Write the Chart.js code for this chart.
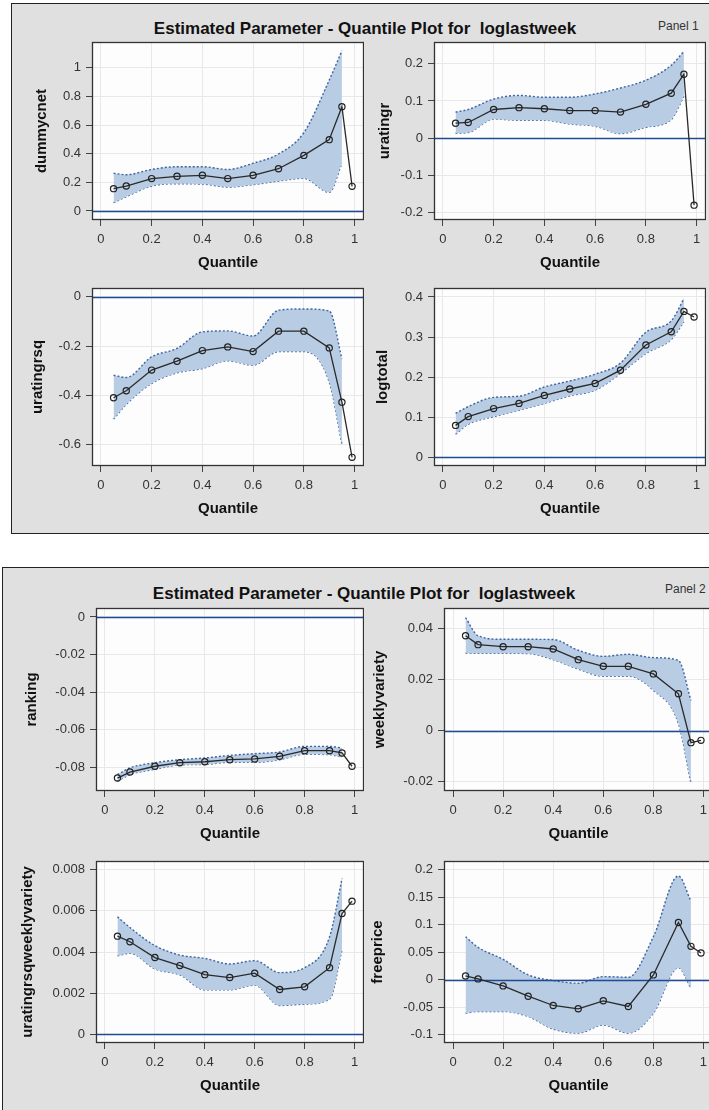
<!DOCTYPE html>
<html><head><meta charset="utf-8">
<script src="https://cdn.jsdelivr.net/npm/chart.js@4.4.1/dist/chart.umd.min.js"></script>
<style>
html,body{margin:0;padding:0;background:#fff;width:709px;height:1110px;overflow:hidden;position:relative;font-family:"Liberation Sans",Arial,sans-serif;}
.panel{position:absolute;background:#e0e0e0;border:1px solid #222;box-sizing:border-box;}
.title{position:absolute;font-weight:bold;font-size:17px;line-height:20px;color:#111;white-space:pre;transform:translate(-50%,-50%);}
.plabel{position:absolute;font-size:12px;line-height:14px;color:#333;white-space:pre;}
canvas{position:absolute;}
</style></head><body>
<div class="panel" style="left:11px;top:3px;width:720px;height:531px"></div>
<div class="panel" style="left:2px;top:567px;width:730px;height:600px"></div>
<div class="title" style="left:365px;top:29px">Estimated Parameter - Quantile Plot for  loglastweek</div>
<div class="plabel" style="left:658px;top:19px">Panel 1</div>
<div class="title" style="left:364px;top:594px">Estimated Parameter - Quantile Plot for  loglastweek</div>
<div class="plabel" style="left:665px;top:582px">Panel 2</div>
<script>
// ---------------- data ----------------
const quantiles = [0.05,0.1,0.2,0.3,0.4,0.5,0.6,0.7,0.8,0.9,0.95,0.99];
const bandQuantiles = [0.05,0.1,0.2,0.3,0.4,0.5,0.6,0.7,0.8,0.9,0.95];
const xTicks = [0,0.2,0.4,0.6,0.8,1];

const dummycnetEst   = [0.156,0.174,0.226,0.242,0.249,0.226,0.249,0.295,0.388,0.498,0.728,0.172];
const dummycnetUpper = [0.263,0.253,0.290,0.309,0.309,0.290,0.333,0.398,0.547,0.914,1.119];
const dummycnetLower = [0.058,0.100,0.174,0.190,0.188,0.167,0.184,0.209,0.228,0.130,0.333];
const dummycnetTicks = [0,0.2,0.4,0.6,0.8,1];

const uratingrEst   = [0.040,0.042,0.077,0.082,0.079,0.074,0.074,0.070,0.091,0.121,0.172,-0.181];
const uratingrUpper = [0.070,0.077,0.105,0.115,0.110,0.110,0.119,0.135,0.156,0.196,0.234];
const uratingrLower = [0.013,0.015,0.051,0.048,0.048,0.038,0.032,0.012,0.029,0.050,0.113];
const uratingrTicks = [-0.2,-0.1,0,0.1,0.2];

const uratingrsqEst   = [-0.409,-0.381,-0.297,-0.261,-0.218,-0.203,-0.222,-0.139,-0.139,-0.207,-0.427,-0.651];
const uratingrsqUpper = [-0.318,-0.327,-0.243,-0.209,-0.142,-0.138,-0.159,-0.054,-0.049,-0.057,-0.250];
const uratingrsqLower = [-0.496,-0.436,-0.351,-0.308,-0.291,-0.259,-0.277,-0.222,-0.222,-0.345,-0.597];
const uratingrsqTicks = [-0.6,-0.4,-0.2,0];

const logtotalEst   = [0.079,0.101,0.121,0.134,0.154,0.170,0.184,0.217,0.280,0.313,0.364,0.350];
const logtotalUpper = [0.109,0.126,0.149,0.152,0.175,0.190,0.207,0.235,0.312,0.340,0.396];
const logtotalLower = [0.057,0.082,0.101,0.117,0.134,0.153,0.167,0.209,0.259,0.294,0.338];
const logtotalTicks = [0,0.1,0.2,0.3,0.4];

const rankingEst   = [-0.0859,-0.0827,-0.0796,-0.0777,-0.0772,-0.0761,-0.0757,-0.0743,-0.0713,-0.0713,-0.0725,-0.0796];
const rankingUpper = [-0.0841,-0.0805,-0.0777,-0.0761,-0.0752,-0.0738,-0.0729,-0.0720,-0.0690,-0.0690,-0.0699];
const rankingLower = [-0.0875,-0.0841,-0.0812,-0.0789,-0.0786,-0.0775,-0.0775,-0.0761,-0.0732,-0.0734,-0.0747];
const rankingTicks = [-0.08,-0.06,-0.04,-0.02,0];

const weeklyvarietyEst   = [0.0373,0.0338,0.0330,0.0330,0.0321,0.0279,0.0253,0.0253,0.0223,0.0145,-0.0047,-0.0038];
const weeklyvarietyUpper = [0.0444,0.0373,0.0359,0.0359,0.0358,0.0316,0.0292,0.0300,0.0287,0.0276,0.0119];
const weeklyvarietyLower = [0.0305,0.0304,0.0304,0.0303,0.0279,0.0242,0.0214,0.0214,0.0159,0.0028,-0.0206];
const weeklyvarietyTicks = [-0.02,0,0.02,0.04];

const urwvEst   = [0.00477,0.00450,0.00373,0.00334,0.00290,0.00276,0.00297,0.00218,0.00231,0.00324,0.00587,0.00647];
const urwvUpper = [0.00571,0.00519,0.00431,0.00385,0.00369,0.00342,0.00358,0.00300,0.00324,0.00474,0.00756];
const urwvLower = [0.00381,0.00394,0.00318,0.00289,0.00216,0.00216,0.00239,0.00140,0.00147,0.00171,0.00410];
const urwvTicks = [0,0.002,0.004,0.006,0.008];

const freepriceEst   = [0.0066,0.0012,-0.0115,-0.0302,-0.0471,-0.0531,-0.0386,-0.0489,0.0085,0.1039,0.0604,0.0483];
const freepriceUpper = [0.0779,0.0586,0.0368,0.0085,-0.0018,-0.0066,0.0054,0.0042,0.0779,0.1884,0.1425];
const freepriceLower = [-0.061,-0.058,-0.058,-0.067,-0.090,-0.0972,-0.0827,-0.0972,-0.061,0.0217,-0.0157];
const freepriceTicks = [-0.1,-0.05,0,0.05,0.1,0.15,0.2];

// ---------------- drawing ----------------
const FONT = '"Liberation Sans", Arial, sans-serif';
const PT = 10, XH = 52;
const fmt = v => String(Math.round(v * 1e6) / 1e6);
const pts = (xs, ys) => ys.map((y, i) => ({x: xs[i], y}));

const framePlugin = {
  id: 'frame',
  beforeDraw(chart) {
    const {ctx, chartArea: a} = chart;
    ctx.save(); ctx.fillStyle = '#fdfdfd';
    ctx.fillRect(a.left, a.top, a.right - a.left, a.bottom - a.top);
    ctx.restore();
  },
  afterDatasetDraw(chart, args) {
    if (args.index !== 1) return;
    const {ctx, chartArea: a} = chart;
    const y = Math.round(chart.scales.y.getPixelForValue(0)) + 0.5;
    ctx.save(); ctx.strokeStyle = '#1f4a94'; ctx.lineWidth = 1.5;
    ctx.beginPath(); ctx.moveTo(a.left, y); ctx.lineTo(a.right, y); ctx.stroke();
    ctx.restore();
  },
  afterDraw(chart) {
    const {ctx, chartArea: a} = chart;
    ctx.save(); ctx.strokeStyle = '#333'; ctx.lineWidth = 1.3;
    ctx.strokeRect(a.left + 0.5, a.top + 0.5, a.right - a.left - 1, a.bottom - a.top - 1);
    ctx.restore();
  }
};

function makePlot(g, title, est, upper, lower, yTicks, yMin, yMax, xMin, xMax) {
  const c = document.createElement('canvas');
  const w = g.yW + (g.R - g.L), h = PT + (g.B - g.T) + XH;
  c.width = w; c.height = h;
  c.style.left = (g.L - g.yW) + 'px'; c.style.top = (g.T - PT) + 'px';
  c.style.width = w + 'px'; c.style.height = h + 'px';
  document.body.appendChild(c);
  new Chart(c, {
    type: 'scatter',
    data: {datasets: [
      {data: pts(quantiles, est), showLine: true, borderColor: '#2a2a2a', borderWidth: 1.3, tension: 0,
       pointRadius: 3.1, pointBorderWidth: 1.2, pointBorderColor: '#222', pointBackgroundColor: 'rgba(0,0,0,0)', fill: false},
      {data: pts(bandQuantiles, upper), showLine: true, borderColor: '#3d64a3', borderWidth: 1.4, borderDash: [2, 2],
       cubicInterpolationMode: 'monotone', pointRadius: 0, fill: '+1', backgroundColor: '#b8cce4'},
      {data: pts(bandQuantiles, lower), showLine: true, borderColor: '#3d64a3', borderWidth: 1.4, borderDash: [2, 2],
       cubicInterpolationMode: 'monotone', pointRadius: 0, fill: false}
    ]},
    options: {
      responsive: false, animation: false, devicePixelRatio: 1,
      layout: {padding: {top: PT, right: 0, left: 0, bottom: 0}, autoPadding: false},
      plugins: {legend: {display: false}, tooltip: {enabled: false}, filler: {propagate: false}},
      scales: {
        x: {
          type: 'linear', min: xMin, max: xMax,
          afterBuildTicks: s => { s.ticks = xTicks.map(v => ({value: v})); },
          afterFit: s => { s.height = XH; s.paddingLeft = 0; s.paddingRight = 0; },
          ticks: {font: {family: FONT, size: 13}, color: '#333', padding: 6, maxRotation: 0, autoSkip: false, callback: fmt},
          grid: {color: '#e8e8e8', tickColor: '#444', tickLength: 6, lineWidth: 1},
          border: {display: false},
          title: {display: true, text: 'Quantile', font: {family: FONT, size: 15, weight: 'bold'}, color: '#111', padding: 0}
        },
        y: {
          type: 'linear', min: yMin, max: yMax,
          afterBuildTicks: s => { s.ticks = yTicks.map(v => ({value: v})); },
          afterFit: s => { s.width = g.yW; s.paddingTop = 0; s.paddingBottom = 0; },
          ticks: {font: {family: FONT, size: 13}, color: '#333', padding: 5, autoSkip: false, callback: fmt},
          grid: {color: '#e8e8e8', tickColor: '#444', tickLength: 6, lineWidth: 1},
          border: {display: false},
          title: {display: true, text: title, font: {family: FONT, size: 15, weight: 'bold'}, color: '#111', padding: 0}
        }
      }
    },
    plugins: [framePlugin]
  });
}

makePlot({L: 92, T: 42, R: 364, B: 220, yW: 59}, 'dummycnet', dummycnetEst, dummycnetUpper, dummycnetLower, dummycnetTicks, -0.063, 1.18, -0.035, 1.037);
makePlot({L: 434, T: 42, R: 706, B: 220, yW: 58}, 'uratingr', uratingrEst, uratingrUpper, uratingrLower, uratingrTicks, -0.221, 0.259, -0.035, 1.037);
makePlot({L: 92, T: 288, R: 364, B: 466, yW: 63}, 'uratingrsq', uratingrsqEst, uratingrsqUpper, uratingrsqLower, uratingrsqTicks, -0.686, 0.036, -0.035, 1.037);
makePlot({L: 434, T: 288, R: 706, B: 466, yW: 60}, 'logtotal', logtotalEst, logtotalUpper, logtotalLower, logtotalTicks, -0.0225, 0.4225, -0.035, 1.037);
makePlot({L: 96, T: 608, R: 364, B: 791, yW: 73}, 'ranking', rankingEst, rankingUpper, rankingLower, rankingTicks, -0.0928, 0.0048, -0.036, 1.038);
makePlot({L: 444, T: 608, R: 713, B: 791, yW: 73}, 'weeklyvariety', weeklyvarietyEst, weeklyvarietyUpper, weeklyvarietyLower, weeklyvarietyTicks, -0.0237, 0.0482, -0.036, 1.038);
makePlot({L: 96, T: 861, R: 364, B: 1043, yW: 77}, 'uratingrsqweeklyvariety', urwvEst, urwvUpper, urwvLower, urwvTicks, -0.00042, 0.00842, -0.036, 1.038);
makePlot({L: 444, T: 861, R: 713, B: 1043, yW: 75}, 'freeprice', freepriceEst, freepriceUpper, freepriceLower, freepriceTicks, -0.1153, 0.2156, -0.036, 1.038);
</script>
</body></html>
